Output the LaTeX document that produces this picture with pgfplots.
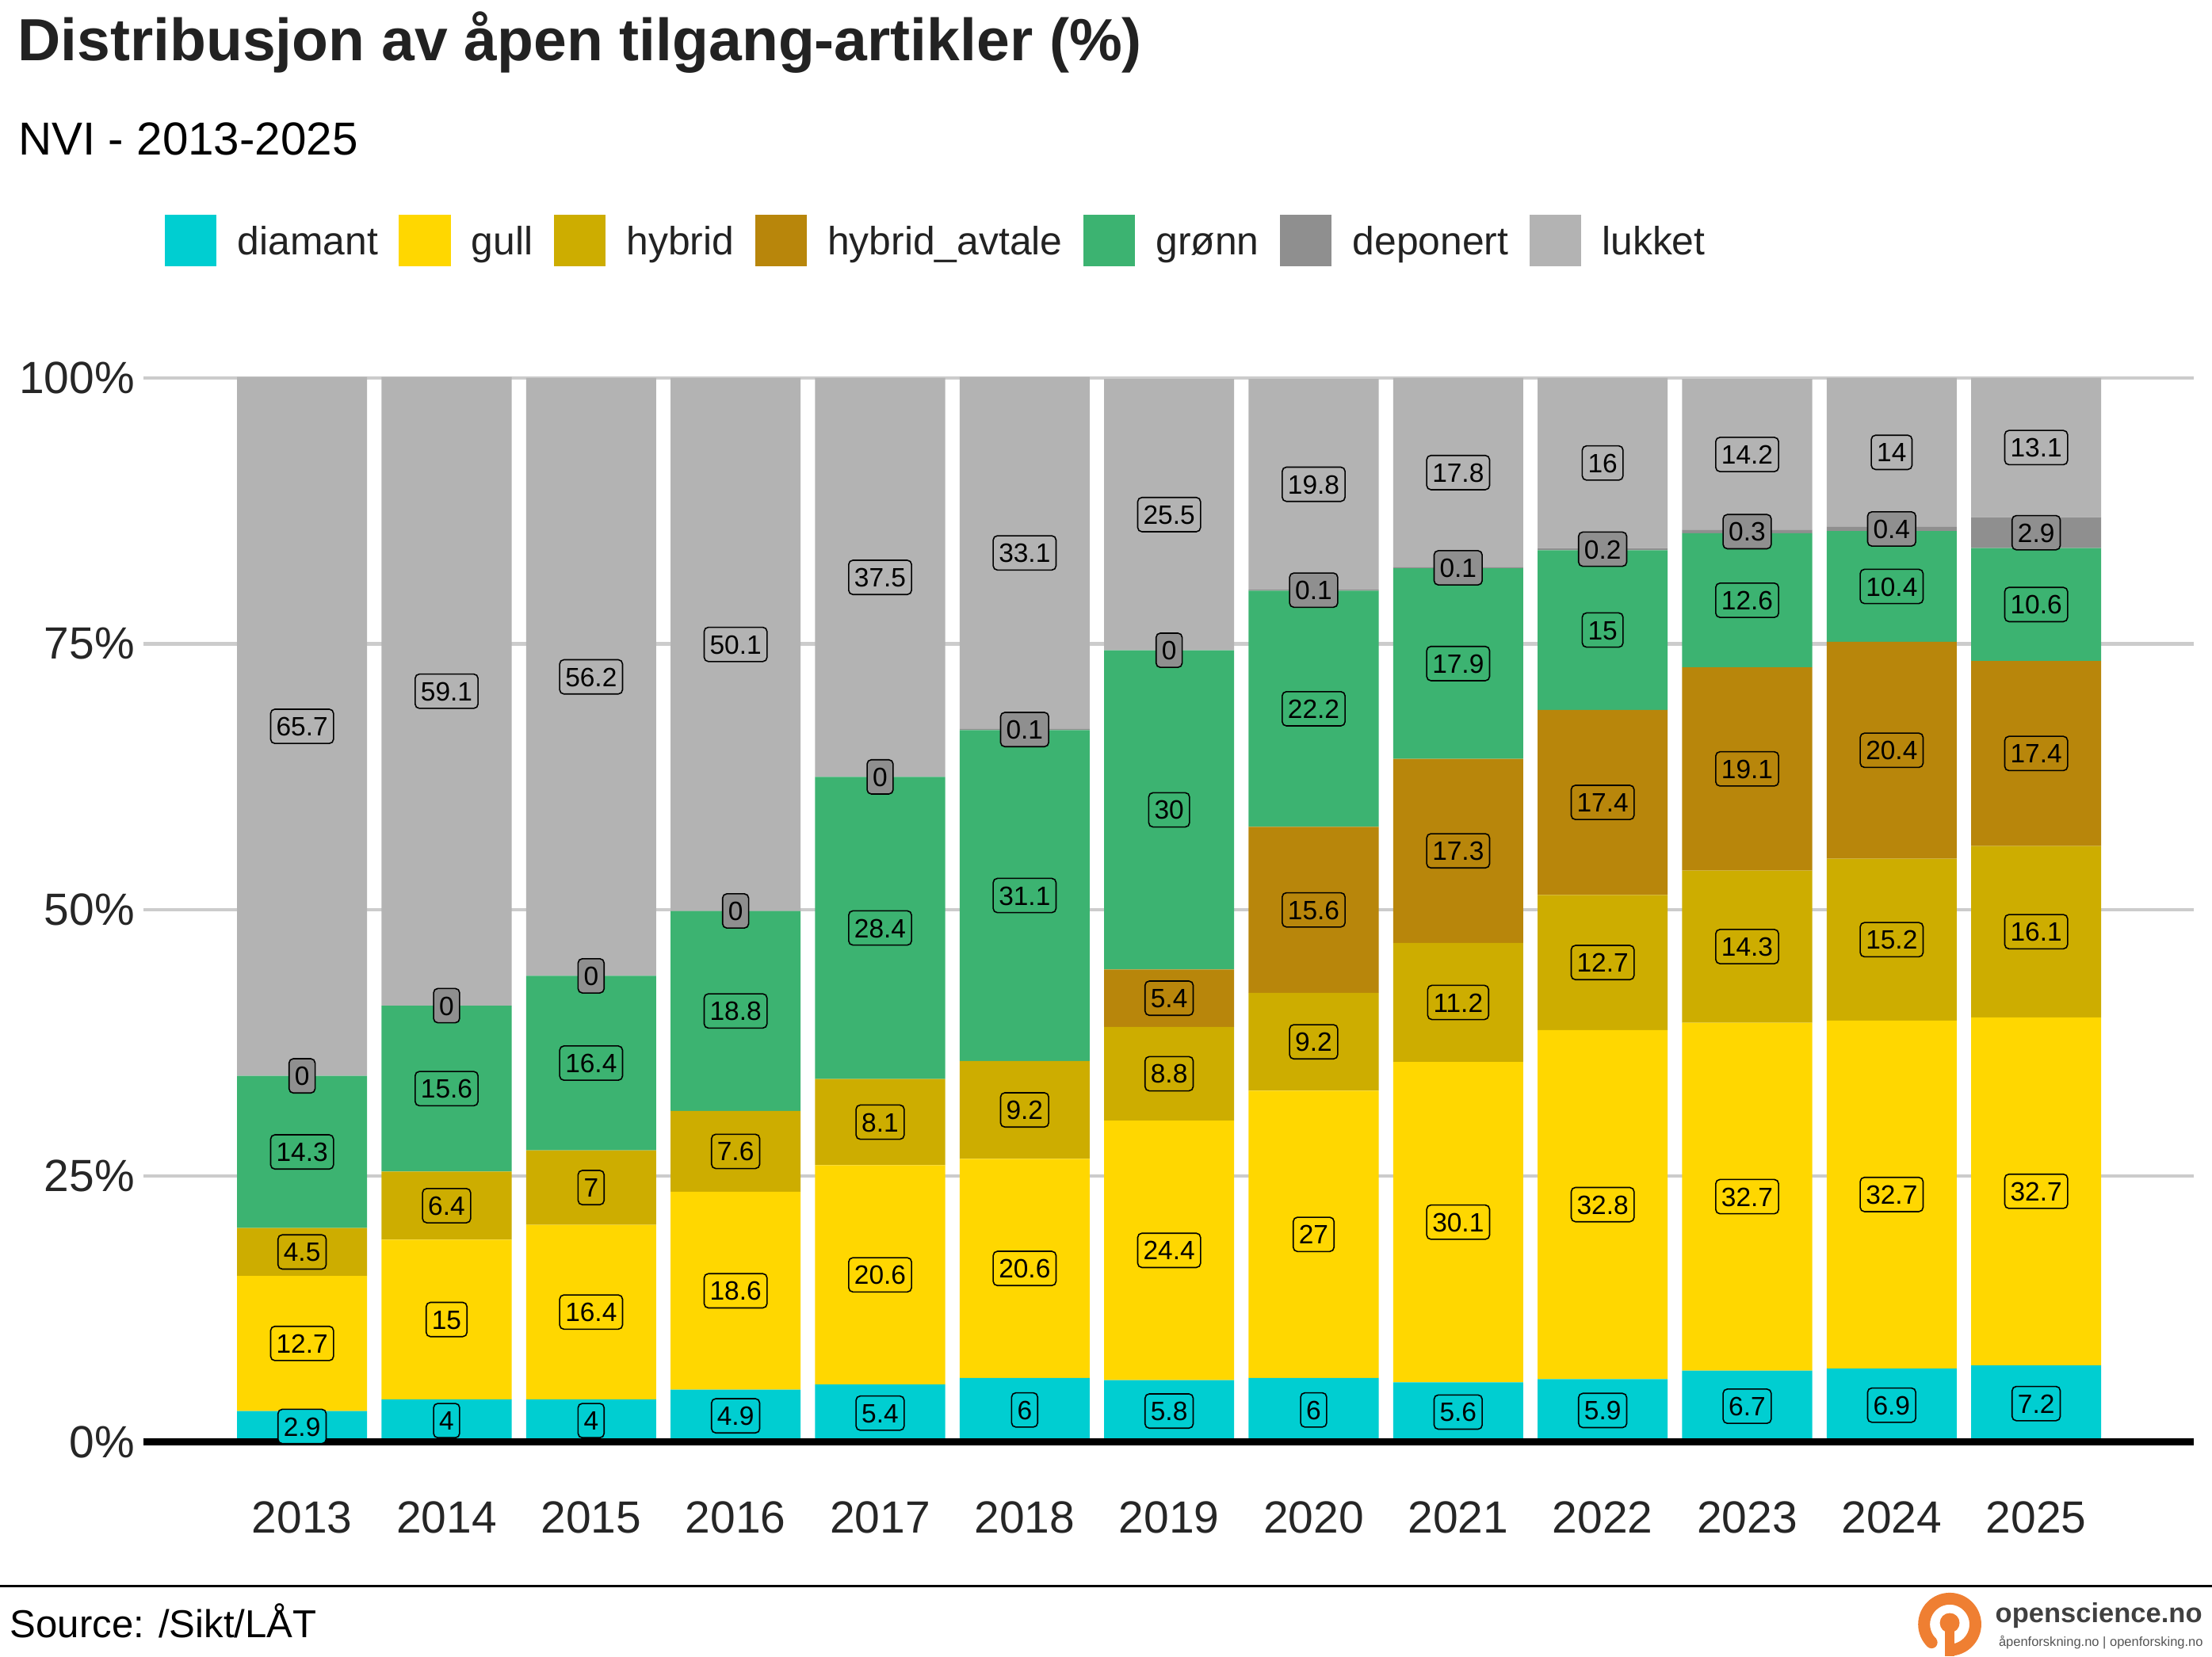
\documentclass[border=0pt]{standalone}
\usepackage{fontspec}
\setmainfont{Liberation Sans}
\usepackage{pgfplots}
\usepackage{pgfplotstable}
\pgfplotsset{compat=1.18}
\usetikzlibrary{calc}

\definecolor{cdia}{HTML}{00CED1}
\definecolor{cgul}{HTML}{FFD700}
\definecolor{chyb}{HTML}{CDAD00}
\definecolor{cava}{HTML}{B8860B}
\definecolor{cgro}{HTML}{3CB371}
\definecolor{cdep}{HTML}{8F8F8F}
\definecolor{cluk}{HTML}{B3B3B3}
\definecolor{gridc}{HTML}{CCCCCC}
\definecolor{tickc}{HTML}{262626}
\definecolor{titc}{HTML}{222222}
\definecolor{logoor}{HTML}{EF7F32}
\definecolor{logogr}{HTML}{404040}
\definecolor{logogrb}{HTML}{555555}

\pgfplotstableread{
x year dia gul hyb ava gro dep luk
0 2013 2.9 12.7 4.5 0 14.3 0 65.7
1 2014 4 15 6.4 0 15.6 0 59.1
2 2015 4 16.4 7 0 16.4 0 56.2
3 2016 4.9 18.6 7.6 0 18.8 0 50.1
4 2017 5.4 20.6 8.1 0 28.4 0 37.5
5 2018 6 20.6 9.2 0 31.1 0.1 33.1
6 2019 5.8 24.4 8.8 5.4 30 0 25.5
7 2020 6 27 9.2 15.6 22.2 0.1 19.8
8 2021 5.6 30.1 11.2 17.3 17.9 0.1 17.8
9 2022 5.9 32.8 12.7 17.4 15 0.2 16
10 2023 6.7 32.7 14.3 19.1 12.6 0.3 14.2
11 2024 6.9 32.7 15.2 20.4 10.4 0.4 14
12 2025 7.2 32.7 16.1 17.4 10.6 2.9 13.1
}\data

% label positions: middle of each stacked segment
\pgfplotstablecreatecol[create col/expr={\thisrow{dia}/2}]{mdia}\data
\pgfplotstablecreatecol[create col/expr={\thisrow{dia}+\thisrow{gul}/2}]{mgul}\data
\pgfplotstablecreatecol[create col/expr={\thisrow{dia}+\thisrow{gul}+\thisrow{hyb}/2}]{mhyb}\data
\pgfplotstablecreatecol[create col/expr={\thisrow{dia}+\thisrow{gul}+\thisrow{hyb}+\thisrow{ava}/2}]{mava}\data
\pgfplotstablecreatecol[create col/expr={\thisrow{dia}+\thisrow{gul}+\thisrow{hyb}+\thisrow{ava}+\thisrow{gro}/2}]{mgro}\data
\pgfplotstablecreatecol[create col/expr={\thisrow{dia}+\thisrow{gul}+\thisrow{hyb}+\thisrow{ava}+\thisrow{gro}+\thisrow{dep}/2}]{mdep}\data
\pgfplotstablecreatecol[create col/expr={\thisrow{dia}+\thisrow{gul}+\thisrow{hyb}+\thisrow{ava}+\thisrow{gro}+\thisrow{dep}+\thisrow{luk}/2}]{mluk}\data

\pgfplotsset{
  sqlegend/.style={legend image code/.code={\fill[##1] (0pt,-9.15pt) rectangle (18.3pt,9.15pt);}},
  lbl/.style={only marks, mark=none,
    nodes near coords={\pgfplotspointmeta},
    nodes near coords align={center},
    point meta=explicit symbolic,
    every node near coord/.append style={anchor=center, fill=#1, draw=black,
      line width=0.45pt, rounded corners=1.5pt, inner xsep=2pt, inner ysep=2.7pt,
      text height=6.75pt, text depth=0pt, text=black,
      font=\fontsize{9.4}{10}\selectfont}},
  common/.style={at={(0pt,0pt)}, anchor=south west,
    width=726.9pt, height=377.3pt, scale only axis,
    xmin=-1.097, xmax=13.09, ymin=0, ymax=100, clip=false},
}

\begin{document}
\begin{tikzpicture}
\path[use as bounding box] (-50.9pt,-76.2pt) rectangle (733.4pt,511.3pt);

\begin{axis}[common, name=main,
  ybar stacked, bar width=0.9,
  axis line style={draw=none},
  tick style={draw=none},
  xtick={0,1,2,3,4,5,6,7,8,9,10,11,12},
  xticklabels={2013,2014,2015,2016,2017,2018,2019,2020,2021,2022,2023,2024,2025},
  ytick={0,25,50,75,100},
  yticklabels={0\%,25\%,50\%,75\%,100\%},
  ymajorgrids, grid style={line width=1.2pt, color=gridc},
  xticklabel style={font=\fontsize{16}{18}\selectfont, text=tickc, anchor=north, inner sep=0pt, yshift=-20.8pt},
  yticklabel style={font=\fontsize{16}{18}\selectfont, text=tickc, anchor=east, inner sep=0pt, xshift=-3pt},
  legend columns=-1,
  legend style={draw=none, fill=none, inner sep=0pt, outer sep=0pt,
    at={(axis description cs:0.010455,1.12881)}, anchor=west,
    font=\fontsize{14}{16}\selectfont, text=titc,
    nodes={inner sep=0pt, text height=12.8pt, text depth=3pt},
    /tikz/every odd column/.style={column sep=7.43pt},
    /tikz/every even column/.style={column sep=7.43pt}},
]
\addplot[fill=cdia, draw=none, sqlegend] table[x=x, y=dia]{\data};
\addplot[fill=cgul, draw=none, sqlegend] table[x=x, y=gul]{\data};
\addplot[fill=chyb, draw=none, sqlegend] table[x=x, y=hyb]{\data};
\addplot[fill=cava, draw=none, sqlegend] table[x=x, y=ava]{\data};
\addplot[fill=cgro, draw=none, sqlegend] table[x=x, y=gro]{\data};
\addplot[fill=cdep, draw=none, sqlegend] table[x=x, y=dep]{\data};
\addplot[fill=cluk, draw=none, sqlegend] table[x=x, y=luk]{\data};
\legend{diamant, gull, hybrid, hybrid\_avtale, grønn, deponert, lukket}
\end{axis}

\begin{axis}[common, hide axis]
\draw[line width=2.4pt, black] (axis cs:-1.097,0) -- (axis cs:13.09,0);
\addplot[lbl=cdia] table[x=x, y=mdia, meta=dia]{\data};
\addplot[lbl=cgul] table[x=x, y=mgul, meta=gul]{\data};
\addplot[lbl=chyb] table[x=x, y=mhyb, meta=hyb]{\data};
\addplot[lbl=cava, skip coords between index={0}{6}] table[x=x, y=mava, meta=ava]{\data};
\addplot[lbl=cgro] table[x=x, y=mgro, meta=gro]{\data};
\addplot[lbl=cdep] table[x=x, y=mdep, meta=dep]{\data};
\addplot[lbl=cluk] table[x=x, y=mluk, meta=luk]{\data};
\end{axis}

% titles
\node[anchor=base west, inner sep=0pt, text=titc, font=\bfseries\fontsize{21.1}{24}\selectfont] at (-44.8pt,489.8pt) {Distribusjon av åpen tilgang-artikler (\%)};
\node[anchor=base west, inner sep=0pt, text=black, font=\fontsize{16.4}{18}\selectfont] at (-44.5pt,456.5pt) {NVI - 2013-2025};

% footer
\draw[line width=0.95pt, black] (-50.9pt,-51.1pt) -- (733.4pt,-51.1pt);
\node[anchor=base west, inner sep=0pt, text=black, font=\fontsize{13.8}{16}\selectfont] at (-47.5pt,-69.4pt) {Source: /Sikt/LÅT};

% logo
\draw[color=logoor, line width=4.2pt, line cap=butt] (640.4pt,-64.7pt) ++(225:9.1pt) arc[start angle=225, end angle=-90, radius=9.1pt];
\fill[logoor] ($(640.4pt,-64.7pt)+(225:9.1pt)$) circle (2.1pt);
\fill[logoor] (638.75pt,-64.5pt) rectangle (642.05pt,-75.9pt);
\fill[logoor] (640.4pt,-64.2pt) circle (3.5pt);
\node[anchor=base west, inner sep=0pt, text=logogr, font=\bfseries\fontsize{9.7}{11}\selectfont] at (656.4pt,-64.2pt) {openscience.no};
\node[anchor=base west, inner sep=0pt, text=logogrb, font=\fontsize{4.64}{5}\selectfont] at (657.6pt,-72.4pt) {åpenforskning.no | openforsking.no};
\end{tikzpicture}
\end{document}
